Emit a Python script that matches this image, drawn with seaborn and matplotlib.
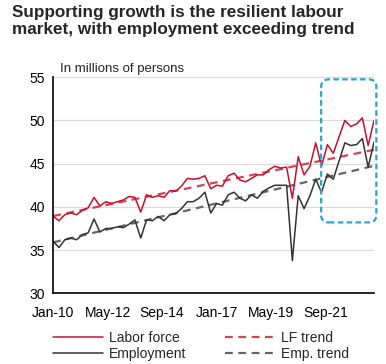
import pandas as pd
import numpy as np
import seaborn as sns
import matplotlib.pyplot as plt
import matplotlib.dates as mdates
from matplotlib.patches import FancyBboxPatch
from matplotlib.lines import Line2D

# quarterly data, Q1 2010 .. Q4 2023 (millions of persons)
quarters = pd.period_range("2010Q1", "2023Q4", freq="Q").to_timestamp()

labor_force = [38.9, 38.4, 39.1, 39.3, 39.1, 39.6, 39.9, 41.1, 40.1, 40.6,
               40.4, 40.6, 40.8, 41.2, 41.1, 39.4, 41.4, 41.1, 41.3, 41.1,
               41.9, 41.8, 42.4, 43.3, 43.2, 43.3, 43.6, 42.1, 42.5, 42.4,
               43.6, 43.9, 43.1, 42.9, 43.3, 43.7, 43.7, 44.3, 44.7, 44.5,
               44.6, 41.0, 45.8, 43.7, 44.7, 47.4, 44.7, 47.2, 46.2, 48.1,
               50.0, 49.3, 49.6, 50.3, 47.1, 50.0]

employment = [36.0, 35.3, 36.2, 36.4, 36.2, 36.8, 37.0, 38.6, 37.1, 37.5,
              37.5, 37.7, 37.6, 38.0, 38.5, 36.4, 38.5, 38.4, 38.9, 38.4,
              39.1, 39.2, 39.8, 40.6, 40.6, 41.0, 41.7, 39.3, 40.4, 40.2,
              41.4, 41.7, 41.0, 40.7, 41.4, 41.0, 41.8, 42.2, 42.5, 42.5,
              42.5, 33.8, 41.3, 39.8, 41.3, 43.2, 41.7, 43.8, 43.2, 45.3,
              47.4, 47.1, 47.2, 47.9, 44.6, 47.5]

# linear trends: start / end values
lf_trend_ends = [38.95, 46.6]
emp_trend_ends = [35.9, 44.75]

tick_labels = ["Jan-10", "May-12", "Sep-14", "Jan-17", "May-19", "Sep-21"]

df = pd.DataFrame({"date": quarters, "Labor force": labor_force, "Employment": employment})
trend = pd.DataFrame({"date": [quarters[0], quarters[-1]],
                      "LF trend": lf_trend_ends, "Emp. trend": emp_trend_ends})

sns.set_style("white")
plt.rcParams['font.family'] = ['Liberation Sans', 'DejaVu Sans']

fig = plt.figure(figsize=(3.86, 3.64), dpi=100)
ax = fig.add_axes([0.138, 0.194, 0.831, 0.594])

red = "#c8102e"
dark = "#333333"
dash = (0, (3.5, 2.5))
sns.lineplot(data=trend, x="date", y="LF trend", ax=ax, color="#d9434f",
             lw=1.6, linestyle=dash)
sns.lineplot(data=trend, x="date", y="Emp. trend", ax=ax, color="#666666",
             lw=1.6, linestyle=dash)
sns.lineplot(data=df, x="date", y="Labor force", ax=ax, color=red, lw=1.1)
sns.lineplot(data=df, x="date", y="Employment", ax=ax, color=dark, lw=1.1)

ax.set_ylim(30, 55)
ax.set_yticks([30, 35, 40, 45, 50, 55])
ax.set_xlim(quarters[0], quarters[-1])
ticks = pd.to_datetime(tick_labels, format="%b-%y")
ax.set_xticks(ticks)
ax.set_xticklabels(tick_labels)
ax.set_xlabel("")
ax.set_ylabel("")
ax.yaxis.grid(True, color="#d9d9d9", lw=0.8)
ax.set_axisbelow(True)
for s in ["top", "right"]:
    ax.spines[s].set_visible(False)
for s in ["left", "bottom"]:
    ax.spines[s].set_color("black")
    ax.spines[s].set_linewidth(1.2)
ax.tick_params(axis="both", direction="out", length=4, width=1, colors="black",
               labelsize=10, pad=2)
ax.tick_params(axis="x", pad=5)

ax.text(0.02, 1.01, "In millions of persons", transform=ax.transAxes,
        fontsize=9.5, va="bottom", ha="left")

fig.text(0.03, 0.985, "Supporting growth is the resilient labour\nmarket, with employment exceeding trend",
         fontsize=12.3, fontweight="bold", va="top", ha="left", linespacing=1.1)

box = FancyBboxPatch((0.832, 0.389), 0.143, 0.393, transform=fig.transFigure,
                     boxstyle="round,pad=0,rounding_size=0.02", fill=False,
                     edgecolor="#2aa3d0", lw=1.6, linestyle=(0, (2.5, 1.5)))
fig.patches.append(box)

handles = [Line2D([], [], color=red, lw=1.1),
           Line2D([], [], color=dark, lw=1.1),
           Line2D([], [], color="#d9434f", lw=1.6, linestyle=dash),
           Line2D([], [], color="#666666", lw=1.6, linestyle=dash)]
labels = ["Labor force", "Employment", "LF trend", "Emp. trend"]
fig.legend(handles, labels, ncol=2, loc="upper left", bbox_to_anchor=(0.12, 0.11),
           frameon=False, fontsize=10, handlelength=3.6, handletextpad=0.4,
           columnspacing=2.8, labelspacing=0.15, borderpad=0)

fig.savefig("out.png", dpi=100)
